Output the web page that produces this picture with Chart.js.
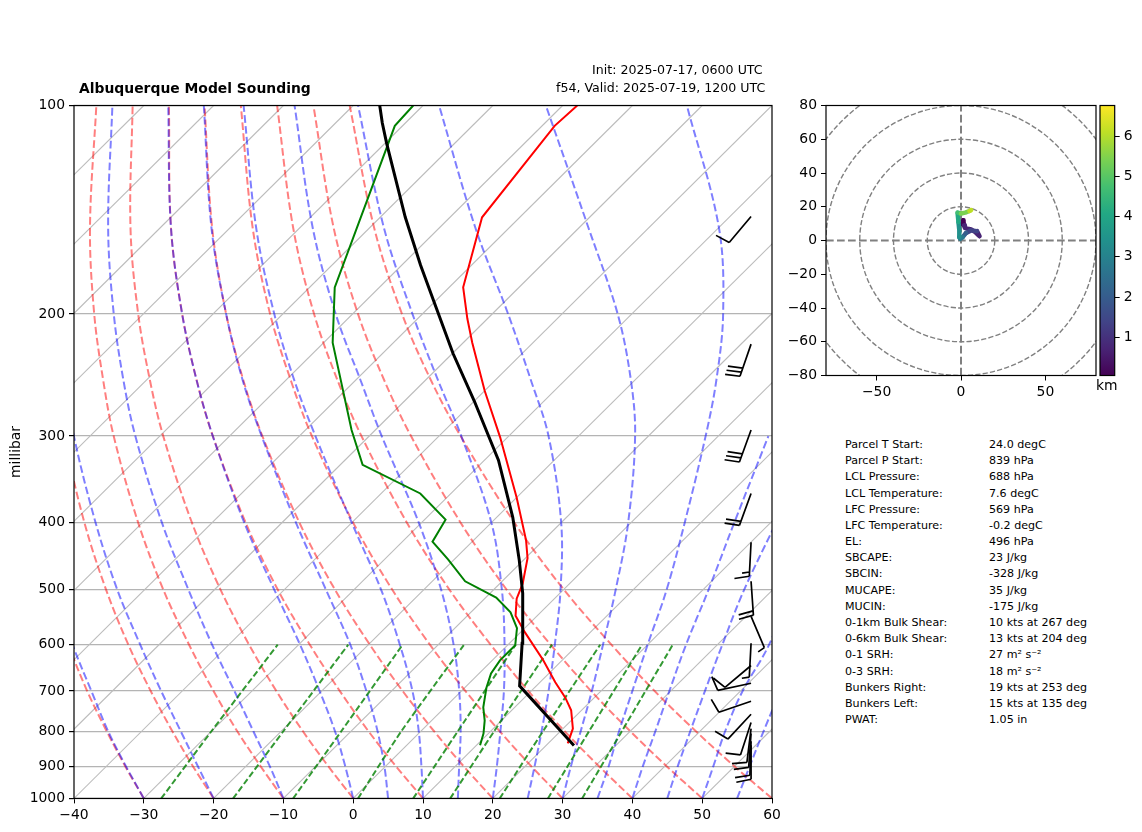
<!DOCTYPE html>
<html>
<head>
<meta charset="utf-8">
<title>Albuquerque Model Sounding</title>
<script src="https://cdn.jsdelivr.net/npm/chart.js@4/dist/chart.umd.min.js"></script>
<style>
  body { margin: 0; background: #fff; width: 1142px; height: 832px; overflow: hidden; font-family: "DejaVu Sans", sans-serif; color: #000; }
  canvas { position: absolute; }
  .txt { position: absolute; white-space: nowrap; line-height: 16px; }
</style>
</head>
<body>
<canvas id="skew" width="790" height="832" style="left:0;top:0"></canvas>
<canvas id="hodo" width="312" height="405" style="left:786px;top:0"></canvas>
<canvas id="cbar" width="52" height="405" style="left:1090px;top:0"></canvas>
<div class="txt" style="left:79px;top:80px;font-size:13.9px;font-weight:bold">Albuquerque Model Sounding</div>
<div class="txt" style="left:592px;top:62px;font-size:12.6px">Init: 2025-07-17, 0600 UTC</div>
<div class="txt" style="left:556px;top:80px;font-size:12.6px">f54, Valid: 2025-07-19, 1200 UTC</div>
<div class="txt" style="left:1096px;top:377px;font-size:13.9px">km</div>
<div id="stats"></div>
<script>
// pressure levels the background curves were read at (hPa)
const levels = [1000, 900, 800, 700, 600, 500, 400, 300, 250, 200, 150, 100];

const xTicks = [-40, -30, -20, -10, 0, 10, 20, 30, 40, 50, 60];
const pressureTicks = [100, 200, 300, 400, 500, 600, 700, 800, 900, 1000];
const isotherms = [-130, -120, -110, -100, -90, -80, -70, -60, -50, -40, -30, -20, -10, 0, 10, 20, 30, 40, 50, 60];

// dashed red curves, temperature at each of the levels
const dryAdiabats = [
  [-30, -37.2, -45.0, -53.6, -63.0, -73.7, -86.0, -100.8, -109.5, -119.6, -131.7, -147.2],
  [-20, -27.5, -35.6, -44.5, -54.4, -65.5, -78.3, -93.7, -102.8, -113.3, -125.9, -142.0],
  [-10, -17.8, -26.3, -35.5, -45.7, -57.3, -70.6, -86.6, -96.0, -107.0, -120.1, -136.8],
  [0, -8.1, -16.9, -26.5, -37.1, -49.1, -62.9, -79.5, -89.3, -100.7, -114.3, -131.6],
  [10, 1.6, -7.5, -17.4, -28.4, -40.9, -55.2, -72.4, -82.6, -94.4, -108.5, -126.4],
  [20, 11.3, 1.9, -8.4, -19.8, -32.7, -47.5, -65.3, -75.9, -88.1, -102.6, -121.3],
  [30, 21.0, 11.3, 0.6, -11.2, -24.5, -39.8, -58.2, -69.1, -81.8, -96.8, -116.1],
  [40, 30.7, 20.6, 9.6, -2.5, -16.3, -32.1, -51.1, -62.4, -75.5, -91.0, -110.9],
  [50, 40.4, 30.0, 18.6, 6.1, -8.1, -24.4, -44.0, -55.7, -69.2, -85.2, -105.7],
  [60, 50.1, 39.4, 27.7, 14.8, 0.1, -16.7, -36.9, -49.0, -62.9, -79.4, -100.5]
];

// dashed blue curves, same levels, short ones leave the plot early
const moistAdiabats = [
  [-30, -37.1, -44.8, -53.0, -62.4, -73.0],
  [-20, -26.8, -34.4, -43.0, -52.7, -63.9, -76.7, -92.3, -101.4],
  [-10, -16.5, -24.0, -32.5, -42.4, -53.7, -67.2, -83.5, -93.1, -104.2, -117.5, -134.5],
  [0, -5.7, -12.3, -20.3, -29.8, -41.4, -55.4, -72.4, -82.6, -94.4, -108.5, -126.5],
  [5, -0.1, -6.2, -13.6, -22.6, -34.0, -48.0, -65.4, -76.0, -88.1, -102.7, -121.4],
  [10, 5.2, -0.3, -7.0, -15.5, -26.1, -40.0, -57.7, -68.6, -81.2, -96.3, -115.7],
  [15, 10.6, 5.7, -0.3, -7.8, -17.5, -30.4, -48.2, -59.1, -72.4, -88.2, -108.4],
  [20, 16.0, 11.4, 6.1, -0.5, -8.8, -20.0, -36.8, -48.0, -61.4, -78.0, -99.3],
  [25, 21.4, 17.3, 12.5, 6.7, -0.4, -10.0, -24.3, -34.7, -47.7, -64.9, -87.7],
  [30, 26.6, 22.9, 18.7, 13.6, 7.5, -0.4, -11.9, -20.4, -32.0, -48.7, -72.4],
  [35, 32.0, 28.4, 24.5, 20.0, 14.8, 7.7, -1.8, -8.2, -16.9, -30.0, -52.2],
  [40, 36.9, 33.6, 29.8, 25.5, 20.8, 14.8, 7.2],
  [45, 41.9, 38.6, 34.9, 30.7, 25.9, 20.8],
  [50, 47.0, 43.6, 40.3, 37.4, 32.5],
  [55, 52.2, 49.1, 45.7]
];

// dashed green lines, 1000 to 600 hPa
const mixingLevels = [1000, 800, 600];
const mixingLines = [
  [-27.5, -30.0, -33.0],
  [-17.2, -19.7, -22.9],
  [-8.6, -11.4, -15.1],
  [0.7, -2.8, -6.3],
  [8.6, 5.3, 1.1],
  [13.9, 10.5, 6.3],
  [21.0, 17.5, 13.2],
  [27.9, 24.1, 19.2],
  [32.8, 28.8, 23.6]
];

// temperature profile
const tempP = [833, 793, 746, 715, 680, 632, 576, 545, 515, 490, 450, 424, 368, 301, 258, 220, 203, 183, 145, 107, 100];
const tempT = [22.8, 21.4, 18.5, 15.8, 12.2, 7.3, 0.65, -3.1, -5.4, -6.7, -9.7, -12.5, -20, -31.1, -40, -48.7, -52.9, -58, -65.4, -68.2, -67.9];

// dewpoint profile
const dewP = [838, 806, 772, 739, 692, 660, 632, 601, 568, 539, 513, 486, 452, 426, 396, 363, 330, 294, 220, 183, 107, 100];
const dewT = [10.5, 9.3, 7.6, 5.5, 3.1, 1.7, 1.1, 1.1, -1.1, -4.3, -8.5, -15.3, -20.9, -25.7, -27, -34.4, -46.8, -53.4, -68.7, -76.4, -91.1, -91.4];

// parcel path
const parcelP = [839, 688, 597, 506, 453, 393, 325, 267, 228, 191, 170, 145, 113.5, 106, 100];
const parcelT = [24.0, 7.6, 1.8, -5.3, -10.6, -17.7, -28, -40, -49.9, -60.4, -67.3, -76.4, -89.7, -93.3, -96.2];

// wind barbs
const barbColumn = 57;
const barbP = [144.6, 221, 294, 363, 427, 486, 546, 597, 643, 682, 724, 756, 777, 793, 806, 827, 838];
const barbDir = [220, 199, 200, 200, 183, 176, 157, 183, 230, 258, 251, 223, 198, 187, 184, 182, 180];
const barbKts = [10, 30, 30, 20, 15, 20, 5, 5, 10, 10, 10, 10, 10, 10, 10, 10, 10];

// hodograph
const hodoHeight = [0.05, 0.1, 0.2, 0.3, 0.4, 0.5, 0.6, 0.7, 0.8, 0.9, 1.0, 1.2, 1.5, 1.9, 2.4, 2.8, 3.2, 3.6, 4.0, 4.4, 4.8, 5.2, 5.6, 6.0, 6.76];
const hodoU = [0.5, 1, 1.3, 1.5, 1.8, 2.3, 4, 6, 8.5, 10, 11, 9.5, 6, 3, 1, -0.5, -1, -1, -1.5, -2, -2, 0, 2.5, 5, 6];
const hodoV = [10, 9.5, 12, 11, 9, 7.5, 7, 6.5, 5, 3.5, 2.5, 5.5, 6, 4.5, 2, 1, 2, 6, 11, 16, 16.5, 16, 16.5, 17.5, 18];
const hodoRings = [20, 40, 60, 80, 100];
const hodoXTicks = [-50, 0, 50];
const cbarTicks = [1, 2, 3, 4, 5, 6];
const cbarRange = [0.05, 6.76];

const viridisStops = ['#440154', '#482475', '#414487', '#355f8d', '#2a788e', '#21918c', '#22a884', '#44bf70', '#7ad151', '#bddf26', '#fde725'];

const statNames = ['Parcel T Start:', 'Parcel P Start:', 'LCL Pressure:', 'LCL Temperature:', 'LFC Pressure:', 'LFC Temperature:', 'EL:', 'SBCAPE:', 'SBCIN:', 'MUCAPE:', 'MUCIN:', '0-1km Bulk Shear:', '0-6km Bulk Shear:', '0-1 SRH:', '0-3 SRH:', 'Bunkers Right:', 'Bunkers Left:', 'PWAT:'];
const statValues = ['24.0 degC', '839 hPa', '688 hPa', '7.6 degC', '569 hPa', '-0.2 degC', '496 hPa', '23 J/kg', '-328 J/kg', '35 J/kg', '-175 J/kg', '10 kts at 267 deg', '13 kts at 204 deg', '27 m² s⁻²', '18 m² s⁻²', '19 kts at 253 deg', '15 kts at 135 deg', '1.05 in'];

Chart.defaults.font.family = '"DejaVu Sans", sans-serif';
Chart.defaults.font.size = 13.9;
Chart.defaults.color = '#000';
Chart.defaults.animation = false;

const SKEW = 100; // degrees of x shift per decade of pressure
const skewPoint = (t, p) => ({ x: t + SKEW * Math.log10(1000 / p), y: p });
const minus = (v) => String(v).replace('-', '\u2212');

function curve(ts, ps, style) {
  return Object.assign({ data: ts.map((t, i) => skewPoint(t, ps[i])), showLine: true, pointRadius: 0, fill: false }, style);
}

const frame = {
  id: 'frame',
  afterDraw(chart) {
    const { ctx, chartArea: a } = chart;
    ctx.save();
    ctx.strokeStyle = '#000';
    ctx.lineWidth = 1.2;
    ctx.strokeRect(a.left, a.top, a.right - a.left, a.bottom - a.top);
    ctx.restore();
  }
};

const barbs = {
  id: 'barbs',
  afterDatasetsDraw(chart) {
    const { ctx, scales } = chart;
    const staff = 34, full = 15, gap = 4.3;
    ctx.save();
    ctx.strokeStyle = '#000';
    ctx.lineWidth = 1.7;
    barbP.forEach((p, i) => {
      const x0 = scales.x.getPixelForValue(barbColumn);
      const y0 = scales.y.getPixelForValue(p);
      const rad = barbDir[i] * Math.PI / 180;
      const sx = Math.sin(rad), sy = -Math.cos(rad);
      const nx = -sy, ny = sx;
      ctx.beginPath();
      ctx.moveTo(x0, y0);
      ctx.lineTo(x0 + sx * staff, y0 + sy * staff);
      let along = staff, kts = barbKts[i];
      while (kts >= 5) {
        const len = kts >= 10 ? full : full / 2;
        const bx = x0 + sx * along, by = y0 + sy * along;
        ctx.moveTo(bx, by);
        ctx.lineTo(bx + len * (0.2 * sx + 0.98 * nx), by + len * (0.2 * sy + 0.98 * ny));
        kts -= kts >= 10 ? 10 : 5;
        along -= gap;
      }
      ctx.stroke();
    });
    ctx.restore();
  }
};

const rings = {
  id: 'rings',
  beforeDatasetsDraw(chart) {
    const { ctx, chartArea: a, scales } = chart;
    const cx = scales.x.getPixelForValue(0), cy = scales.y.getPixelForValue(0);
    ctx.save();
    ctx.beginPath();
    ctx.rect(a.left, a.top, a.right - a.left, a.bottom - a.top);
    ctx.clip();
    ctx.strokeStyle = 'gray';
    ctx.lineWidth = 1.4;
    ctx.setLineDash([5.2, 2.2]);
    hodoRings.forEach((r) => {
      ctx.beginPath();
      ctx.arc(cx, cy, scales.x.getPixelForValue(r) - cx, 0, Math.PI * 2);
      ctx.stroke();
    });
    ctx.restore();
  }
};

const quiet = { legend: { display: false }, tooltip: { enabled: false }, title: { display: false } };

const redDash = { borderColor: 'rgba(255,0,0,0.5)', borderWidth: 2, borderDash: [7.7, 3.3], tension: 0.35, order: 6 };
const blueDash = { borderColor: 'rgba(0,0,255,0.5)', borderWidth: 2, borderDash: [7.7, 3.3], tension: 0.35, order: 5 };
const greenDash = { borderColor: 'rgba(0,128,0,0.8)', borderWidth: 2, borderDash: [6.2, 2.8], tension: 0.2, order: 4 };

new Chart(document.getElementById('skew'), {
  type: 'scatter',
  data: {
    datasets: [
      ...isotherms.map((t) => curve([t, t], [1000, 100], { borderColor: '#bcbcbc', borderWidth: 1.1, order: 7 })),
      ...dryAdiabats.map((ts) => curve(ts, levels, redDash)),
      ...moistAdiabats.map((ts) => curve(ts, levels, blueDash)),
      ...mixingLines.map((ts) => curve(ts, mixingLevels, greenDash)),
      curve(dewT, dewP, { borderColor: 'green', borderWidth: 2, order: 3 }),
      curve(tempT, tempP, { borderColor: 'red', borderWidth: 2, order: 2 }),
      curve(parcelT, parcelP, { borderColor: 'black', borderWidth: 3, order: 1 })
    ]
  },
  options: {
    responsive: false,
    layout: { padding: { top: 105.5, right: 18, bottom: 4, left: 0 } },
    plugins: quiet,
    scales: {
      x: {
        type: 'linear',
        min: -40,
        max: 60,
        afterFit: (s) => { s.height = 29.6; },
        afterBuildTicks: (s) => { s.ticks = xTicks.map((value) => ({ value })); },
        border: { display: false },
        grid: { drawOnChartArea: false, tickLength: 5, tickColor: '#000' },
        ticks: { padding: 4, maxRotation: 0, autoSkip: false, callback: minus }
      },
      y: {
        type: 'logarithmic',
        reverse: true,
        min: 100,
        max: 1000,
        afterFit: (s) => { s.width = 74; },
        afterBuildTicks: (s) => { s.ticks = pressureTicks.map((value) => ({ value })); },
        border: { display: false },
        grid: { color: '#b4b4b4', lineWidth: 1.2, tickLength: 5, tickColor: '#000' },
        ticks: { padding: 4, autoSkip: false, callback: (v) => String(v) },
        title: { display: true, text: 'millibar', padding: { top: 8, bottom: 0 } }
      }
    }
  },
  plugins: [barbs, frame]
});

function viridis(h) {
  const t = Math.min(1, Math.max(0, (h - cbarRange[0]) / (cbarRange[1] - cbarRange[0])));
  return viridisStops[Math.round(t * (viridisStops.length - 1))];
}

new Chart(document.getElementById('hodo'), {
  type: 'scatter',
  data: {
    datasets: [
      {
        data: hodoU.map((u, i) => ({ x: u, y: hodoV[i] })),
        showLine: true,
        pointRadius: 0,
        borderWidth: 4.5,
        borderCapStyle: 'round',
        borderJoinStyle: 'round',
        segment: { borderColor: (c) => viridis(hodoHeight[c.p0DataIndex]) },
        order: 1
      },
      { data: [{ x: -80, y: 0 }, { x: 80, y: 0 }], showLine: true, pointRadius: 0, borderColor: 'gray', borderWidth: 2, borderDash: [7.7, 3.3], order: 2 },
      { data: [{ x: 0, y: -80 }, { x: 0, y: 80 }], showLine: true, pointRadius: 0, borderColor: 'gray', borderWidth: 2, borderDash: [7.7, 3.3], order: 2 }
    ]
  },
  options: {
    responsive: false,
    layout: { padding: { top: 105.5, right: 2, bottom: 4, left: 0 } },
    plugins: quiet,
    scales: {
      x: {
        type: 'linear',
        min: -80,
        max: 80,
        afterFit: (s) => { s.height = 25.5; },
        afterBuildTicks: (s) => { s.ticks = hodoXTicks.map((value) => ({ value })); },
        border: { display: false },
        grid: { drawOnChartArea: false, tickLength: 5, tickColor: '#000' },
        ticks: { padding: 4, maxRotation: 0, autoSkip: false, callback: minus }
      },
      y: {
        type: 'linear',
        min: -80,
        max: 80,
        afterFit: (s) => { s.width = 40; },
        border: { display: false },
        grid: { drawOnChartArea: false, tickLength: 5, tickColor: '#000' },
        ticks: { stepSize: 20, padding: 4, autoSkip: false, callback: minus }
      }
    }
  },
  plugins: [rings, frame]
});

new Chart(document.getElementById('cbar'), {
  type: 'bar',
  data: {
    labels: ['km'],
    datasets: [{
      data: [cbarRange],
      barPercentage: 1,
      categoryPercentage: 1,
      backgroundColor: (c) => {
        const a = c.chart.chartArea;
        if (!a) return viridisStops[5];
        const g = c.chart.ctx.createLinearGradient(0, a.bottom, 0, a.top);
        viridisStops.forEach((col, i) => g.addColorStop(i / (viridisStops.length - 1), col));
        return g;
      }
    }]
  },
  options: {
    responsive: false,
    layout: { padding: { top: 105.5, right: 0, bottom: 29.5, left: 10 } },
    plugins: quiet,
    scales: {
      x: { display: false },
      y: {
        position: 'right',
        min: cbarRange[0],
        max: cbarRange[1],
        afterFit: (s) => { s.width = 27.3; },
        afterBuildTicks: (s) => { s.ticks = cbarTicks.map((value) => ({ value })); },
        border: { display: false },
        grid: { drawOnChartArea: false, tickLength: 5, tickColor: '#000' },
        ticks: { padding: 4, autoSkip: false, callback: (v) => String(v) }
      }
    }
  },
  plugins: [frame]
});

// stats table under the hodograph
const stats = document.getElementById('stats');
statNames.forEach((name, i) => {
  const top = 437 + i * 16.18;
  stats.insertAdjacentHTML('beforeend',
    `<div class="txt" style="left:845px;top:${top}px;font-size:11.1px">${name}</div>` +
    `<div class="txt" style="left:989px;top:${top}px;font-size:11.1px">${statValues[i]}</div>`);
});
</script>
</body>
</html>
